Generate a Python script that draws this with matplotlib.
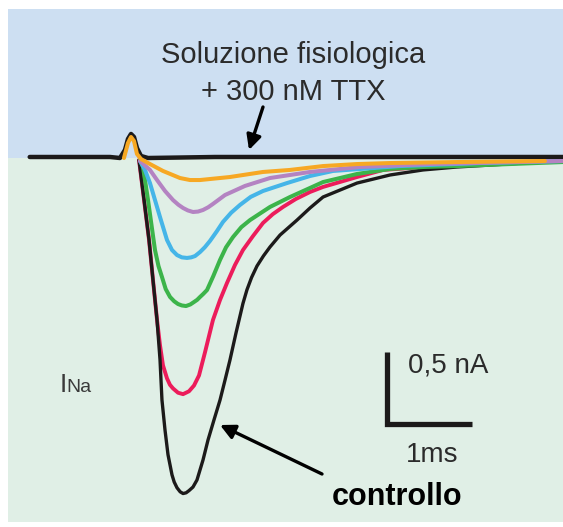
import matplotlib.pyplot as plt
from matplotlib.patches import Rectangle

# tracce di corrente del sodio (t in ms, I in nA)
ttx_t = [-1.18, -0.235, -0.118, -0.059, -0.024, 0.012, 0.047, 0.082, 0.129, 0.212, 1.0, 2.5, 4.0, 5.094]
ttx_i = [0.007, 0.007, 0.0, 0.056, 0.132, 0.167, 0.146, 0.069, 0.014, 0.0, 0.007, 0.007, 0.007, 0.007]

ctrl_t = [0.106, 0.165, 0.224, 0.271, 0.318, 0.353, 0.376, 0.412, 0.447, 0.494, 0.52, 0.553, 0.59, 0.624,
          0.66, 0.694, 0.741, 0.788, 0.859, 0.918, 0.988, 1.059, 1.118, 1.176, 1.247, 1.329, 1.376,
          1.43, 1.494, 1.57, 1.647, 1.765, 1.965, 2.118, 2.271, 2.671, 3.059, 3.447, 3.847, 4.235, 4.624, 5.094]
ctrl_i = [-0.014, -0.29, -0.57, -0.85, -1.125, -1.40, -1.68, -1.89, -2.06, -2.20, -2.25, -2.29, -2.318, -2.33,
          -2.325, -2.31, -2.285, -2.236, -2.097, -1.958, -1.819, -1.681, -1.542, -1.403, -1.215, -1.01, -0.915,
          -0.83, -0.75, -0.68, -0.618, -0.535, -0.431, -0.347, -0.271, -0.174, -0.118, -0.083, -0.0625, -0.049, -0.035, -0.021]

red_t = [0.106, 0.165, 0.224, 0.271, 0.318, 0.353, 0.388, 0.435, 0.47, 0.506, 0.565, 0.624, 0.694,
         0.753, 0.812, 0.882, 0.976, 1.059, 1.141, 1.235, 1.329, 1.447, 1.565, 1.68, 1.8, 1.95, 2.118,
         2.271, 2.671, 2.976, 3.765, 4.353, 5.094]
red_i = [-0.014, -0.29, -0.57, -0.85, -1.125, -1.30, -1.44, -1.53, -1.575, -1.60, -1.63, -1.64, -1.62,
         -1.58, -1.51, -1.35, -1.125, -0.986, -0.868, -0.743, -0.639, -0.542, -0.451, -0.39, -0.340, -0.285, -0.236,
         -0.201, -0.132, -0.083, -0.049, -0.035, -0.021]

green_t = [0.118, 0.153, 0.212, 0.294, 0.335, 0.376, 0.42, 0.471, 0.52, 0.565, 0.61, 0.659, 0.71, 0.753,
           0.79, 0.824, 0.86, 0.906, 0.98, 1.059, 1.13, 1.212, 1.31, 1.412, 1.647, 1.882, 2.118, 2.271, 2.671,
           3.059, 3.447, 3.847, 4.471, 5.094]
green_i = [-0.014, -0.0625, -0.292, -0.639, -0.75, -0.826, -0.91, -0.965, -0.995, -1.014, -1.024, -1.028,
           -1.017, -1.0, -0.985, -0.965, -0.945, -0.917, -0.82, -0.708, -0.62, -0.549, -0.48, -0.431, -0.340,
           -0.271, -0.208, -0.167, -0.111, -0.076, -0.0625, -0.056, -0.042, -0.028]

blue_t = [0.118, 0.176, 0.235, 0.294, 0.353, 0.435, 0.494, 0.553, 0.61, 0.671, 0.72, 0.765, 0.824, 0.88,
          0.941, 1.02, 1.094, 1.19, 1.294, 1.42, 1.565, 1.847, 2.118, 2.388, 3.176, 4.118, 5.094]
blue_i = [-0.021, -0.083, -0.174, -0.292, -0.410, -0.569, -0.639, -0.674, -0.69, -0.694, -0.69, -0.681,
          -0.653, -0.62, -0.576, -0.51, -0.444, -0.38, -0.326, -0.27, -0.229, -0.174, -0.125, -0.090,
          -0.056, -0.035, -0.021]

purple_t = [0.118, 0.235, 0.318, 0.412, 0.506, 0.57, 0.624, 0.68, 0.741, 0.8, 0.859, 0.92, 0.976,
            1.118, 1.353, 1.647, 1.882, 2.118, 2.706, 3.529, 5.094]
purple_i = [-0.021, -0.083, -0.153, -0.229, -0.292, -0.325, -0.347, -0.364, -0.375, -0.372, -0.361,
            -0.342, -0.319, -0.257, -0.194, -0.139, -0.118, -0.097, -0.0625, -0.042, -0.021]

orange_t = [-0.071, -0.024, 0.012, 0.047, 0.082, 0.129, 0.235, 0.388, 0.588, 0.706, 0.824, 0.941,
            1.176, 1.565, 1.882, 2.271, 2.671, 3.059, 3.847, 4.882]
orange_i = [0.0, 0.104, 0.146, 0.118, 0.028, -0.007, -0.042, -0.090, -0.139, -0.153, -0.153, -0.146,
            -0.132, -0.097, -0.083, -0.056, -0.042, -0.035, -0.028, -0.021]

W, H = 563, 527
x0, y0 = 130, 158          # pixel di t=0, I=0
px_ms, px_nA = 85, 144     # pixel per ms e per nA

plt.rcParams['font.family'] = ['Liberation Sans', 'DejaVu Sans']

fig = plt.figure(figsize=(W / 100, H / 100), dpi=100)

# sfondo (coordinate in pixel)
bg = fig.add_axes([0, 0, 1, 1])
bg.set_xlim(0, W)
bg.set_ylim(H, 0)
bg.axis('off')
bg.add_patch(Rectangle((8, 9), W - 8, y0 - 9, color='#cddff2', lw=0))
bg.add_patch(Rectangle((8, y0), W - 8, 522 - y0, color='#e0efe6', lw=0))

ax = fig.add_axes([0, 0, 1, 1])
ax.patch.set_alpha(0)
ax.set_xlim(-x0 / px_ms, (W - x0) / px_ms)
ax.set_ylim((y0 - H) / px_nA, y0 / px_nA)
ax.axis('off')

kw = dict(solid_joinstyle='round', solid_capstyle='round')
ax.plot(ttx_t, ttx_i, color='#1c1a1a', lw=3.2, **kw)
ax.plot(red_t, red_i, color='#ec1c5b', lw=2.8, **kw)
ax.plot(ctrl_t, ctrl_i, color='#1c1a1a', lw=2.4, **kw)
ax.plot(green_t, green_i, color='#3cb44a', lw=2.9, **kw)
ax.plot(blue_t, blue_i, color='#45b5e8', lw=2.9, **kw)
ax.plot(purple_t, purple_i, color='#b483c2', lw=2.9, **kw)
ax.plot(orange_t, orange_i, color='#f7a823', lw=2.9, **kw)

# barra di scala: 1 ms, 0,5 nA
sb_t, sb_i = 3.024, -1.847
ax.plot([sb_t, sb_t, sb_t + 1], [sb_i + 0.5, sb_i, sb_i], color='#1c1a1a', lw=3.8,
        solid_joinstyle='miter', solid_capstyle='butt')

px = bg.transData
txt = '#2b2b2b'
ax.text(293, 63, 'Soluzione fisiologica', transform=px, ha='center', va='baseline',
        fontsize=21, color=txt)
ax.text(293, 100, '+ 300 nM TTX', transform=px, ha='center', va='baseline',
        fontsize=21, color=txt)
ax.text(408, 373, '0,5 nA', transform=px, ha='left', va='baseline', fontsize=20, color=txt)
ax.text(432, 462, '1ms', transform=px, ha='center', va='baseline', fontsize=20, color=txt)
ax.text(397, 505, 'controllo', transform=px, ha='center', va='baseline', fontsize=22,
        fontweight='bold', color='black')
ax.text(60, 392, 'I', transform=px, ha='left', va='baseline', fontsize=19, color='#3a3a3a')
ax.text(66, 392, 'Na', transform=px, ha='left', va='baseline', fontsize=14, color='#3a3a3a')

arrow = dict(arrowstyle='-|>', color='black', lw=2.4, mutation_scale=22, shrinkA=0, shrinkB=0)
ax.annotate('', xy=(249, 150), xytext=(263, 107), xycoords=px, textcoords=px, arrowprops=arrow)
ax.annotate('', xy=(220, 425), xytext=(322, 474), xycoords=px, textcoords=px, arrowprops=arrow)

fig.savefig('out.png', dpi=100)
